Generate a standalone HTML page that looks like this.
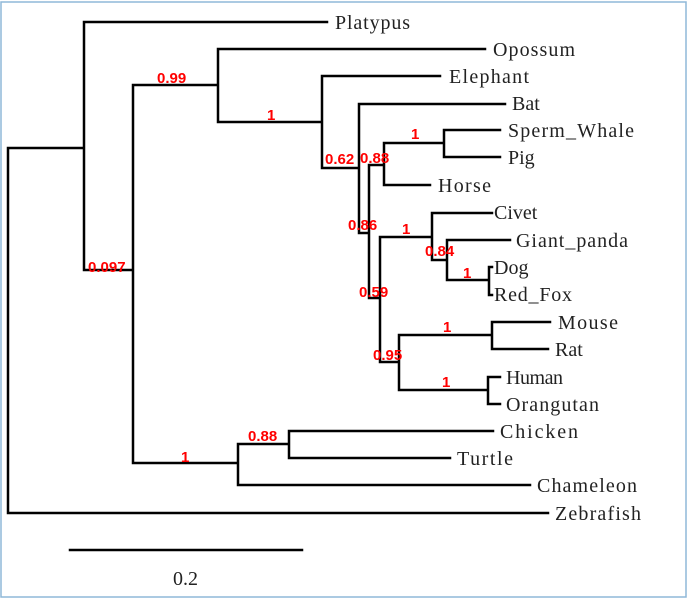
<!DOCTYPE html><html><head><style>body{margin:0;background:#fff}svg{display:block}
.l{font-family:"Liberation Serif",serif;font-size:20px;fill:#222}
.r{font-family:"Liberation Sans",sans-serif;font-size:15px;font-weight:bold;fill:#f00}</style></head><body>
<svg width="688" height="599" xmlns="http://www.w3.org/2000/svg">
<rect x="1" y="2" width="685" height="595" fill="none" stroke="#8fb8d8" stroke-width="1.5"/>
<g stroke="#000" stroke-width="2.5" fill="none" stroke-linecap="square">
<path d="M8 148V513H548M8 148H84M84 22V270M84 22H327M84 270H133M133 85V463M133 85H218M218 49V122M218 49H485M218 122H322M322 76V168M322 76H440M322 168H359M359 104V233M359 104H505M359 233H369M369 165V298M369 165H384M384 143V185M384 185H430M384 143H444M444 130V157M444 130H500M444 157H500M369 298H380M380 237V362M380 237H432M432 213V260M432 213H492M432 260H447M447 240V280M447 240H510M447 280H489M489 267V295M489 267H492M489 295H492M380 362H399M399 335V390M399 335H492M492 322V349M492 322H550M492 349H548M399 390H488M488 377V404M488 377H500M488 404H500M133 463H238M238 444V485M238 444H289M289 431V458M289 431H493M289 458H450M238 485H530M70 550H302"/>
</g>
<g class="l">
<text x="335" y="29" textLength="75">Platypus</text><text x="493" y="56" textLength="82">Opossum</text><text x="449" y="83" textLength="80">Elephant</text><text x="512" y="110">Bat</text><text x="508" y="137" textLength="126">Sperm_Whale</text><text x="508" y="164">Pig</text><text x="438" y="192" textLength="53">Horse</text><text x="494" y="219">Civet</text><text x="516" y="247" textLength="112">Giant_panda</text><text x="494" y="274">Dog</text><text x="494" y="301" textLength="78">Red_Fox</text><text x="558" y="329" textLength="60">Mouse</text><text x="555" y="356">Rat</text><text x="506" y="384" textLength="57">Human</text><text x="506" y="411" textLength="93">Orangutan</text><text x="500" y="438" textLength="78">Chicken</text><text x="457" y="465" textLength="56">Turtle</text><text x="537" y="492" textLength="100">Chameleon</text><text x="555" y="520" textLength="86">Zebrafish</text><text x="173" y="585">0.2</text>
</g>
<g class="r">
<text x="88" y="272">0.097</text><text x="157" y="83">0.99</text><text x="267" y="120">1</text><text x="325" y="164">0.62</text><text x="360" y="163">0.88</text><text x="411" y="139">1</text><text x="348" y="230">0.86</text><text x="402" y="234">1</text><text x="425" y="256">0.84</text><text x="463" y="278">1</text><text x="359" y="297">0.59</text><text x="443" y="332">1</text><text x="373" y="360">0.95</text><text x="442" y="387">1</text><text x="181" y="462">1</text><text x="248" y="441">0.88</text>
</g>
</svg></body></html>
